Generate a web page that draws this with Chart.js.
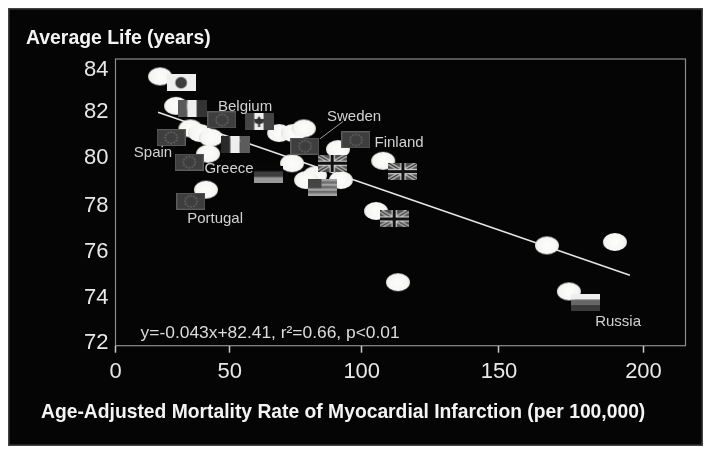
<!DOCTYPE html>
<html>
<head>
<meta charset="utf-8">
<style>
  html, body { margin: 0; padding: 0; background: #fff; }
  #wrap { width: 714px; height: 458px; }
</style>
<script src="https://cdn.jsdelivr.net/npm/chart.js@4"></script>
</head>
<body>
<div id="wrap"><canvas id="chart" width="714" height="458"></canvas></div>
<script>
// values
var xTicks = [0, 50, 100, 150, 200];
var yTicks = [72, 74, 76, 78, 80, 82, 84];

var countryX = [19.5, 26.5, 32.8, 37, 41.8, 40.5, 39.6, 68.7, 74, 78.1, 91, 73.6, 82.3, 78.9, 92.1, 107.8, 105.2, 113.2, 166.6, 190.1, 174.2];
var countryY = [83.6, 82.2, 81.2, 81, 80.8, 80.1, 78.6, 81, 81, 81.2, 80.3, 79.7, 79.2, 79, 79, 79.8, 77.7, 74.6, 76.2, 76.35, 74.2];

var fitX = [18.6, 195.3];
var fitY = [81.9, 74.9];

var leaderX = [92.9, 84.2];
var leaderY = [81.5, 80.75];

var flagEuX = [46.6, 24.3, 32.2, 78.5, 97.8, 33];
var flagEuY = [81.57, 80.8, 79.75, 80.43, 80.7, 78.12];
var flagUkX = [88.8, 115, 111.8];
var flagUkY = [79.7, 79.35, 77.35];
var flagOtherNames = ['japan', 'italy', 'canada', 'ireland', 'germany', 'usa', 'russia'];
var flagOtherX = [28.7, 33.5, 61.1, 52, 64.5, 85.3, 180];
var flagOtherY = [83.3, 82.05, 81.5, 80.48, 79.25, 78.7, 73.7];

var labelNames = ['Belgium', 'Sweden', 'Finland', 'Spain', 'Greece', 'Portugal', 'Russia'];
var labelX = [55.8, 97.1, 113.6, 16.4, 49.7, 43.6, 191.2];
var labelY = [82.2, 81.74, 80.63, 80.17, 79.5, 77.4, 72.9];

var statText = 'y=-0.043x+82.41, r\u00B2=0.66, p<0.01';
var yTitle = 'Average Life (years)';
var xTitle = 'Age-Adjusted Mortality Rate of Myocardial Infarction (per 100,000)';

function pairs(xs, ys) {
  return xs.map(function (x, i) { return { x: x, y: ys[i] }; });
}

// the printed axes are not evenly spaced, so ticks sit on measured fractions of the axis
class WarpScale extends Chart.LinearScale {
  getPixelForValue(value) {
    var knots = this.options.knots;
    for (var i = 1; i < knots.length; i++) {
      if (value <= knots[i][0] || i === knots.length - 1) {
        var a = knots[i - 1], b = knots[i];
        return this.getPixelForDecimal(a[1] + (value - a[0]) / (b[0] - a[0]) * (b[1] - a[1]));
      }
    }
  }
  // middle baseline sits a bit high for digits
  _computeLabelItems(chartArea) {
    var items = super._computeLabelItems(chartArea);
    var nudge = this.options.labelNudge || 0;
    items.forEach(function (item) { item.options.translation[1] += nudge; });
    return items;
  }
}
WarpScale.id = 'warp';
WarpScale.defaults = {};
Chart.register(WarpScale);

function makeCanvas(w, h, draw) {
  var c = document.createElement('canvas');
  c.width = w;
  c.height = h;
  draw(c.getContext('2d'), w, h);
  return c;
}

var dot = makeCanvas(26, 20, function (ctx, w, h) {
  var g = ctx.createRadialGradient(w / 2, h / 2, 3, w / 2, h / 2, 12);
  g.addColorStop(0, '#fbfbf9');
  g.addColorStop(0.75, '#f5f5f3');
  g.addColorStop(1, '#dcdcda');
  ctx.filter = 'blur(0.4px)';
  ctx.fillStyle = g;
  ctx.beginPath();
  ctx.ellipse(w / 2, h / 2, 12, 9, 0, 0, Math.PI * 2);
  ctx.fill();
});

function stripesV(ctx, w, h, a, b, c) {
  ctx.fillStyle = a; ctx.fillRect(0, 0, w / 3, h);
  ctx.fillStyle = b; ctx.fillRect(w / 3, 0, w / 3, h);
  ctx.fillStyle = c; ctx.fillRect(w * 2 / 3, 0, w / 3, h);
}

function stripesH(ctx, w, h, a, b, c) {
  ctx.fillStyle = a; ctx.fillRect(0, 0, w, h / 3);
  ctx.fillStyle = b; ctx.fillRect(0, h / 3, w, h / 3);
  ctx.fillStyle = c; ctx.fillRect(0, h * 2 / 3, w, h / 3);
}

var flagDraw = {
  japan: function (ctx, w, h) {
    ctx.fillStyle = '#eeeeee'; ctx.fillRect(0, 0, w, h);
    ctx.fillStyle = '#3c3c3c';
    ctx.beginPath(); ctx.arc(w / 2, h / 2, 5.8, 0, Math.PI * 2); ctx.fill();
  },
  italy: function (ctx, w, h) { stripesV(ctx, w, h, '#5a5a5a', '#eeeeee', '#333333'); },
  ireland: function (ctx, w, h) { stripesV(ctx, w, h, '#2a2a2a', '#eeeeee', '#5c5c5c'); },
  canada: function (ctx, w, h) {
    stripesV(ctx, w, h, '#444444', '#eeeeee', '#444444');
    ctx.fillStyle = '#333333';
    ctx.beginPath();
    ctx.moveTo(w / 2, 3); ctx.lineTo(w / 2 + 2, 6); ctx.lineTo(w / 2 + 5, 6);
    ctx.lineTo(w / 2 + 4, 10); ctx.lineTo(w / 2 + 1, 11); ctx.lineTo(w / 2 + 1, 14);
    ctx.lineTo(w / 2 - 1, 14); ctx.lineTo(w / 2 - 1, 11); ctx.lineTo(w / 2 - 4, 10);
    ctx.lineTo(w / 2 - 5, 6); ctx.lineTo(w / 2 - 2, 6);
    ctx.closePath(); ctx.fill();
  },
  germany: function (ctx, w, h) { stripesH(ctx, w, h, '#060606', '#3e3e3e', '#9a9a9a'); },
  russia: function (ctx, w, h) { stripesH(ctx, w, h, '#eeeeee', '#666666', '#3a3a3a'); },
  usa: function (ctx, w, h) {
    for (var i = 0; i < 7; i++) {
      ctx.fillStyle = i % 2 ? '#6c6c6c' : '#a4a4a4';
      ctx.fillRect(0, i * h / 7, w, h / 7 + 0.5);
    }
    ctx.fillStyle = '#444444';
    ctx.fillRect(0, 0, w * 0.45, h * 0.55);
  },
  eu: function (ctx, w, h) {
    ctx.fillStyle = '#3e3e3e'; ctx.fillRect(0, 0, w, h);
    ctx.strokeStyle = '#5c5c5c'; ctx.strokeRect(0.5, 0.5, w - 1, h - 1);
    ctx.fillStyle = '#767676';
    for (var i = 0; i < 12; i++) {
      var a = i / 12 * Math.PI * 2;
      ctx.fillRect(w / 2 + Math.cos(a) * 6 - 0.6, h / 2 + Math.sin(a) * 5.6 - 0.6, 1.4, 1.4);
    }
  },
  uk: function (ctx, w, h) {
    ctx.fillStyle = '#4e4e4e'; ctx.fillRect(0, 0, w, h);
    ctx.strokeStyle = '#c4c4c4'; ctx.lineWidth = 4;
    ctx.beginPath();
    ctx.moveTo(0, 0); ctx.lineTo(w, h); ctx.moveTo(w, 0); ctx.lineTo(0, h);
    ctx.stroke();
    ctx.strokeStyle = '#222222'; ctx.lineWidth = 1.2;
    ctx.stroke();
    ctx.strokeStyle = '#d0d0d0'; ctx.lineWidth = 5.5;
    ctx.beginPath();
    ctx.moveTo(w / 2, 0); ctx.lineTo(w / 2, h); ctx.moveTo(0, h / 2); ctx.lineTo(w, h / 2);
    ctx.stroke();
    ctx.strokeStyle = '#111111'; ctx.lineWidth = 3;
    ctx.stroke();
  }
};

function flagImage(name) {
  return makeCanvas(29, 17, flagDraw[name]);
}

var framePlugin = {
  id: 'frame',
  beforeDraw: function (chart) {
    var ctx = chart.ctx, area = chart.chartArea;
    ctx.save();
    ctx.fillStyle = '#ffffff';
    ctx.fillRect(0, 0, chart.width, chart.height);
    ctx.fillStyle = '#434343';
    ctx.fillRect(8, 8, 695, 438);
    ctx.fillStyle = '#050505';
    ctx.fillRect(9.5, 9.5, 692, 435);
    ctx.strokeStyle = '#8c8c8c';
    ctx.lineWidth = 1.2;
    ctx.strokeRect(area.left, area.top, area.right - area.left, area.bottom - area.top);
    ctx.restore();
  },
  afterDatasetsDraw: function (chart) {
    var ctx = chart.ctx, xs = chart.scales.x, ys = chart.scales.y;
    ctx.save();
    ctx.textBaseline = 'middle';
    ctx.textAlign = 'center';
    ctx.fillStyle = '#d2d2d2';
    ctx.font = '15px "Liberation Sans"';
    labelNames.forEach(function (name, i) {
      ctx.fillText(name, xs.getPixelForValue(labelX[i]), ys.getPixelForValue(labelY[i]) + 1);
    });
    ctx.fillStyle = '#dcdcdc';
    ctx.font = '17.4px "Liberation Sans"';
    ctx.fillText(statText, xs.getPixelForValue(65.3), ys.getPixelForValue(72.4) + 1);
    ctx.fillStyle = '#f4f4f4';
    ctx.font = 'bold 19.4px "Liberation Sans"';
    ctx.textAlign = 'left';
    ctx.fillText(yTitle, 26, 38.5);
    ctx.font = 'bold 19.3px "Liberation Sans"';
    ctx.fillText(xTitle, 41, 412.5);
    ctx.restore();
  }
};

var flagSets = [
  { label: 'EU', data: pairs(flagEuX, flagEuY), pointStyle: flagImage('eu') },
  { label: 'UK', data: pairs(flagUkX, flagUkY), pointStyle: flagImage('uk') },
  { label: 'Other', data: pairs(flagOtherX, flagOtherY), pointStyle: flagOtherNames.map(flagImage) }
];
flagSets.forEach(function (s) { s.order = 1; s.showLine = false; });

new Chart(document.getElementById('chart'), {
  type: 'scatter',
  data: {
    datasets: flagSets.concat([
      { label: 'Countries', data: pairs(countryX, countryY), pointStyle: dot, showLine: false, order: 2 },
      { label: 'Fit', data: pairs(fitX, fitY), showLine: true, borderColor: '#e6e6e6', borderWidth: 1.5, pointRadius: 0, order: 3 },
      { label: 'Sweden leader', data: pairs(leaderX, leaderY), showLine: true, borderColor: '#9a9a9a', borderWidth: 1, pointRadius: 0, order: 3 }
    ])
  },
  plugins: [framePlugin],
  options: {
    responsive: false,
    animation: false,
    events: [],
    layout: { padding: { top: 59, right: 28.5, left: 0, bottom: 0 } },
    plugins: { legend: { display: false }, tooltip: { enabled: false } },
    scales: {
      x: {
        type: 'warp',
        min: 0,
        max: 214.5,
        knots: [[0, 0], [50, 0.2004], [100, 0.432], [150, 0.6728], [200, 0.9263], [214.5, 1]],
        afterBuildTicks: function (scale) { scale.ticks = xTicks.map(function (v) { return { value: v }; }); },
        afterFit: function (scale) { scale.height = 112.3; },
        border: { display: false },
        grid: { drawOnChartArea: false, drawTicks: true, tickLength: 7, tickColor: '#c8c8c8', tickWidth: 1.5 },
        ticks: {
          color: '#e8e8e8',
          font: { family: 'Liberation Sans', size: 22 },
          padding: 6,
          maxRotation: 0,
          autoSkip: false,
          callback: function (v) { return String(v); }
        }
      },
      y: {
        type: 'warp',
        min: 71.8,
        max: 84.4,
        labelNudge: 1.5,
        knots: [[71.8, 0], [72, 0.0164], [74, 0.1734], [76, 0.3338], [78, 0.494], [80, 0.6617], [82, 0.822], [84, 0.9686], [84.4, 1]],
        afterBuildTicks: function (scale) { scale.ticks = yTicks.map(function (v) { return { value: v }; }); },
        afterFit: function (scale) { scale.width = 115.5; },
        border: { display: false },
        grid: { display: false, drawTicks: false },
        ticks: {
          color: '#e8e8e8',
          font: { family: 'Liberation Sans', size: 22 },
          padding: 7,
          autoSkip: false,
          callback: function (v) { return String(v); }
        }
      }
    }
  }
});
</script>
</body>
</html>
